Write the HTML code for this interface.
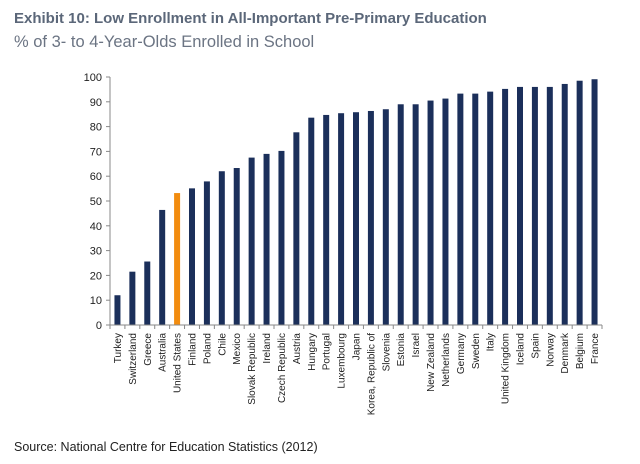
<!DOCTYPE html>
<html><head><meta charset="utf-8"><style>
body{margin:0;background:#fff;width:640px;height:459px;overflow:hidden;font-family:"Liberation Sans",sans-serif}
</style></head><body>
<svg width="640" height="459" viewBox="0 0 640 459">
<text x="14" y="23" font-size="15" font-weight="bold" fill="#5b6779">Exhibit 10: Low Enrollment in All-Important Pre-Primary Education</text>
<text x="14" y="47" font-size="16.5" fill="#6b7483">% of 3- to 4-Year-Olds Enrolled in School</text>
<text x="14" y="451" font-size="12.5" fill="#222">Source:  National Centre for Education Statistics (2012)</text>
<g id="plot"></g>
</svg>
<script>
const categories=["Turkey","Switzerland","Greece","Australia","United States","Finland","Poland","Chile","Mexico","Slovak Republic","Ireland","Czech Republic","Austria","Hungary","Portugal","Luxembourg","Japan","Korea, Republic of","Slovenia","Estonia","Israel","New Zealand","Netherlands","Germany","Sweden","Italy","United Kingdom","Iceland","Spain","Norway","Denmark","Belgium","France"];
const values=[12,21.5,25.6,46.4,53.2,55.1,57.9,62,63.3,67.5,69,70.2,77.7,83.6,84.7,85.4,85.8,86.3,87,89,89,90.5,91.3,93.3,93.3,94.1,95.2,96,96,96,97.2,98.5,99.1];
const yTicks=[0,10,20,30,40,50,60,70,80,90,100];
const highlight="United States";
const NS="http://www.w3.org/2000/svg";
const g=document.getElementById('plot');
const x0=110,x1=602,yBase=325,yTop=77;
const step=(x1-x0)/categories.length;
const yS=v=>yBase-(v/100)*(yBase-yTop);
function mk(t,a){const e=document.createElementNS(NS,t);for(const k in a)e.setAttribute(k,a[k]);g.appendChild(e);return e;}
const ya=mk('line',{x1:x0,y1:yTop,x2:x0,y2:yBase,stroke:'#888','stroke-width':1});


yTicks.forEach(t=>{
 const y=yS(t);
 const tk=mk('line',{x1:x0-4,y1:y,x2:x0,y2:y,stroke:'#888'});
 
 
 const tx=mk('text',{x:x0-8,y:y+4,'text-anchor':'end','font-size':11,fill:'#222'});
 tx.textContent=t;
 
 
});
categories.forEach((c,i)=>{
 const cx=x0+step*(i+0.5);
 const v=values[i];
 const b=mk('rect',{x:cx-3,y:yS(v),width:6,height:yBase-yS(v),fill:c===highlight?'#f28c0f':'#1b2f5a'});
 
 
 const tk=mk('line',{x1:x0+step*(i+1),y1:yBase,x2:x0+step*(i+1),y2:yBase+4,stroke:'#888'});
 
 
 const tx=mk('text',{x:0,y:0,'text-anchor':'end','font-size':10,fill:'#222',transform:`translate(${cx+3.5},${yBase+8}) rotate(-90)`});
 tx.textContent=c;
 
 
});
const xa=mk('line',{x1:x0-4,y1:yBase,x2:x1,y2:yBase,stroke:'#888'});


mk('line',{x1:x0,y1:yBase,x2:x0,y2:yBase+4,stroke:'#888'});
</script>
</body></html>
